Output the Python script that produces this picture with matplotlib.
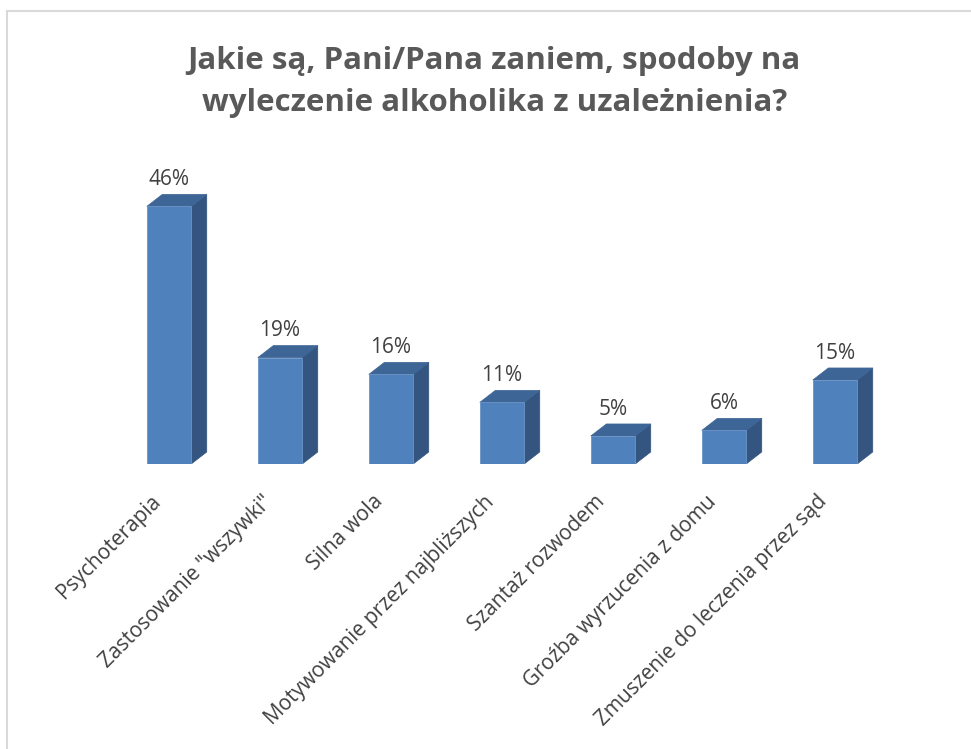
import numpy as np
import matplotlib
matplotlib.use("Agg")
import matplotlib.pyplot as plt
from matplotlib.patches import Polygon, Rectangle
from matplotlib.transforms import ScaledTranslation

# dane z wykresu
kategorie = ['Psychoterapia', 'Zastosowanie "wszywki"', 'Silna wola',
             'Motywowanie przez najbliższych', 'Szantaż rozwodem',
             'Groźba wyrzucenia z domu', 'Zmuszenie do leczenia przez sąd']
procenty = [46, 19, 16, 11, 5, 6, 15]

tytul = 'Jakie są, Pani/Pana zaniem, spodoby na\nwyleczenie alkoholika z uzależnienia?'

plt.rcParams['font.family'] = ['Open Sans', 'DejaVu Sans']

fig = plt.figure(figsize=(9.71, 7.49), dpi=100)
ax = fig.add_axes([0.1169, 0.3805, 0.8002, 0.3738])

x = np.arange(len(kategorie))
szer = 0.40
dx = 0.14   # glebokosc 3D w jednostkach osi x
dy = 2.15   # glebokosc 3D w procentach

kol_przod = '#4F81BD'
kol_bok = '#34557F'
kol_gora = '#3D6595'

ax.bar(x, procenty, width=szer, color=kol_przod, edgecolor='#6B93C6',
       linewidth=0.6, zorder=3)
for xi, v in zip(x, procenty):
    bok = [(xi + szer / 2, 0), (xi + szer / 2 + dx, dy),
           (xi + szer / 2 + dx, v + dy), (xi + szer / 2, v)]
    gora = [(xi - szer / 2, v), (xi - szer / 2 + dx, v + dy),
            (xi + szer / 2 + dx, v + dy), (xi + szer / 2, v)]
    ax.add_patch(Polygon(bok, closed=True, facecolor=kol_bok,
                         edgecolor=kol_bok, linewidth=0.5, zorder=2))
    ax.add_patch(Polygon(gora, closed=True, facecolor=kol_gora,
                         edgecolor=kol_gora, linewidth=0.5, zorder=2))
    ax.annotate(f'{v}%', (xi, v + dy), xytext=(0, 3),
                textcoords='offset points', ha='center', va='bottom',
                fontsize=15, color='#404040')

ax.set_xlim(-0.5, len(kategorie) - 0.5)
ax.set_ylim(0, 50)
ax.set_yticks([])
ax.set_xticks(x)
ax.set_xticklabels(kategorie, rotation=45, ha='right', va='center',
                   rotation_mode='anchor', fontsize=15, color='#404040')
ax.tick_params(axis='x', length=0, pad=25)
przes = ScaledTranslation(-8 / 72, 0, fig.dpi_scale_trans)
for lab in ax.get_xticklabels():
    lab.set_transform(lab.get_transform() + przes)
for s in ax.spines.values():
    s.set_visible(False)
ax.patch.set_alpha(0)

fig.text(0.509, 0.891, tytul, ha='center', va='center', fontsize=22.5,
         fontweight='bold', color='#595959', linespacing=1.53)

# ramka wykresu
fig.patches.append(Rectangle((7 / 971, -0.1), 1.2, 1.1 - 11 / 749,
                             transform=fig.transFigure, fill=False,
                             edgecolor='#D9D9D9', linewidth=1.5))

fig.savefig('out.png', dpi=100)
